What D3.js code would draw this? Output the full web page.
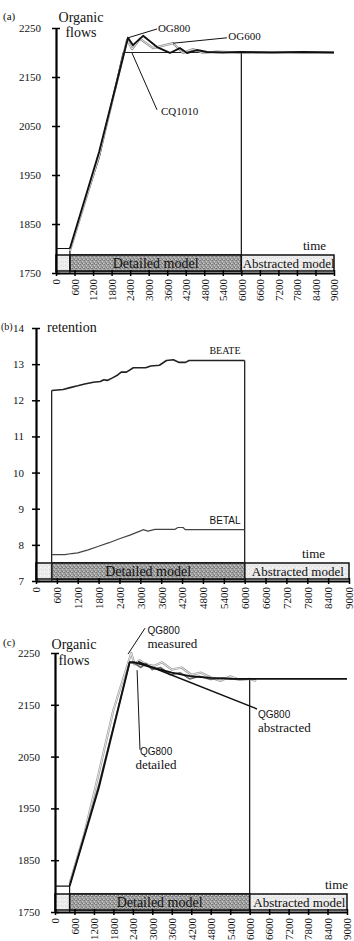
<!DOCTYPE html>
<html>
<head>
<meta charset="utf-8">
<script src="https://cdn.jsdelivr.net/npm/d3@7"></script>
<style>
  body { margin: 0; background: #fff; }
  svg { display: block; }
</style>
</head>
<body>
<script>
// ticks
const timeTicks = [0, 600, 1200, 1800, 2400, 3000, 3600, 4200, 4800, 5400, 6000, 6600, 7200, 7800, 8400, 9000];
const flowTicks = [1750, 1850, 1950, 2050, 2150, 2250];
const retentionTicks = [7, 8, 9, 10, 11, 12, 13, 14];

// model phases
const warmUpT = [0, 450];
const warmUpFlow = 1800;
const switchTime = 6000;
const settledFlow = 2200;

// (a) organic flows
const og800T = [450, 1400, 2330, 2490, 2820, 3270, 3690, 4010, 4240, 4560, 4890, 5400, 6000, 7000, 8000, 9000];
const og800V = [1800, 1998, 2230, 2215, 2234, 2211, 2199, 2209, 2199, 2205, 2201, 2200, 2201, 2200, 2201, 2200];
const og600T = [450, 1400, 2300, 2460, 2720, 3140, 3790, 4110, 4440, 4760, 5200, 6000, 7000, 8000, 9000];
const og600V = [1795, 1990, 2226, 2207, 2228, 2209, 2219, 2199, 2207, 2199, 2202, 2200, 2201, 2200, 2200];
const cq1010T = [450, 1400, 2170, 9000];
const cq1010V = [1800, 1985, 2200, 2200];

// (b) retention
const beateT = [450, 780, 980, 1200, 1400, 1650, 1850, 1950, 2050, 2200, 2350, 2450, 2600, 2800, 3150, 3300, 3550, 3750, 3950, 4100, 4300, 4400, 6000];
const beateV = [12.27, 12.3, 12.35, 12.4, 12.45, 12.5, 12.52, 12.57, 12.55, 12.62, 12.7, 12.78, 12.78, 12.9, 12.9, 12.95, 12.97, 13.1, 13.12, 13.05, 13.05, 13.1, 13.1];
const betalT = [450, 830, 1030, 1200, 1500, 1800, 2100, 2400, 2700, 2990, 3080, 3220, 3420, 4000, 4080, 4230, 4290, 6000];
const betalV = [7.73, 7.73, 7.76, 7.78, 7.86, 7.96, 8.06, 8.17, 8.27, 8.38, 8.42, 8.38, 8.43, 8.43, 8.48, 8.48, 8.42, 8.42];

// (c) QG800
const measuredT = [450, 900, 1300, 1800, 2350, 2450, 2600, 2800, 3050, 3300, 3600, 3900, 4200, 4500, 4800, 5100, 5400, 5700, 6000, 6200];
const measuredV = [1805, 1900, 2005, 2140, 2250, 2228, 2236, 2228, 2225, 2232, 2218, 2222, 2208, 2212, 2203, 2196, 2205, 2198, 2200, 2196];
const detailedT = [450, 1350, 2300, 2450, 2650, 2800, 3000, 3250, 3550, 3850, 4150, 4450, 4800, 5200, 5600, 6000, 6200];
const detailedV = [1800, 1995, 2232, 2230, 2222, 2230, 2218, 2222, 2208, 2212, 2200, 2205, 2199, 2202, 2199, 2200, 2200];
const abstractedT = [450, 1350, 2300, 2450, 3000, 3600, 4200, 4800, 5400, 6000, 9000];
const abstractedV = [1800, 1990, 2232, 2232, 2222, 2212, 2205, 2202, 2200, 2200, 2200];

const SERIF = "'Liberation Serif', 'Times New Roman', serif";
const SANS = "'Liberation Sans', Arial, sans-serif";

const svg = d3.select("body").append("svg").attr("width", 354).attr("height", 941)
  .attr("font-family", SERIF);

// grainy fills for the model band
const defs = svg.append("defs");
function grain(id, base, dots) {
  const p = defs.append("pattern").attr("id", id).attr("width", 4).attr("height", 4)
    .attr("patternUnits", "userSpaceOnUse");
  p.append("rect").attr("width", 4).attr("height", 4).attr("fill", base);
  dots.forEach(d => p.append("rect").attr("x", d[0]).attr("y", d[1]).attr("width", 1).attr("height", 1).attr("fill", d[2]));
}
grain("dark", "#a0a0a0", [[0, 0, "#777"], [2, 1, "#c4c4c4"], [1, 2, "#808080"], [3, 3, "#c8c8c8"], [3, 0, "#8a8a8a"], [0, 3, "#b2b2b2"], [2, 3, "#6f6f6f"]]);
grain("light", "#ececec", [[1, 1, "#d6d6d6"], [3, 2, "#dcdcdc"], [0, 3, "#f8f8f8"]]);

function panel(p) {
  const x = d3.scaleLinear().domain([0, 9000]).range([p.left, p.right]);
  const y = d3.scaleLinear().domain(p.yDomain).range([p.bottom, p.top]);
  const g = svg.append("g");
  const bTop = p.bottom - 18, bBot = p.bottom - 2;

  // band: detailed / abstracted
  g.append("rect").attr("x", p.left).attr("y", bTop).attr("width", p.right - p.left).attr("height", bBot - bTop)
    .attr("fill", "url(#light)").attr("stroke", "#111").attr("stroke-width", 1.5);
  g.append("rect").attr("x", x(warmUpT[1])).attr("y", bTop).attr("width", x(switchTime) - x(warmUpT[1])).attr("height", bBot - bTop)
    .attr("fill", "url(#dark)").attr("stroke", "#111").attr("stroke-width", 1.5);
  g.append("text").attr("x", (x(warmUpT[1]) + x(switchTime)) / 2).attr("y", bBot - 3)
    .attr("text-anchor", "middle").attr("font-size", 14).attr("fill", "#111").text("Detailed model");
  g.append("text").attr("x", (x(switchTime) + p.right) / 2 + 1).attr("y", bBot - 3)
    .attr("text-anchor", "middle").attr("font-size", 13).attr("fill", "#111").text("Abstracted model");
  g.append("text").attr("x", p.timeX).attr("y", bTop - 5).attr("font-size", 13).attr("fill", "#111").text("time");

  // x axis
  const xa = g.append("g").attr("transform", `translate(0,${p.bottom})`)
    .call(d3.axisBottom(x).tickValues(timeTicks).tickSize(3).tickSizeOuter(0).tickFormat(d3.format("d")))
    .attr("font-family", SERIF).attr("font-size", 11);
  xa.select(".domain").attr("stroke-width", 2.2);
  xa.selectAll(".tick line").attr("y1", -3).attr("stroke-width", 1.5);
  xa.selectAll(".tick text").attr("transform", "rotate(-90)").attr("text-anchor", "end")
    .attr("x", -6).attr("y", 0).attr("dy", "0.35em").attr("fill", "#111");

  // y axis
  const ya = g.append("g").attr("transform", `translate(${p.left},0)`)
    .call(d3.axisLeft(y).tickValues(p.yTicks).tickSize(4).tickSizeOuter(0).tickPadding(p.pad).tickFormat(d3.format("d")))
    .attr("font-family", SERIF).attr("font-size", 11);
  ya.select(".domain").attr("stroke-width", 2.2);
  ya.selectAll(".tick line").attr("x1", 4).attr("stroke-width", 1.5);
  ya.selectAll(".tick text").attr("fill", "#111");

  return { x, y, g };
}

function series(ctx, T, V, stroke, width) {
  const line = d3.line().x((d, i) => ctx.x(T[i])).y(d => ctx.y(d));
  return ctx.g.append("path").attr("d", line(V)).attr("fill", "none")
    .attr("stroke", stroke).attr("stroke-width", width).attr("stroke-linejoin", "round");
}
function hollow(ctx, T, V, stroke, width) {
  series(ctx, T, V, stroke, width);
  series(ctx, T, V, "#fff", width * 0.35);
}
function leader(ctx, a, b, w) {
  ctx.g.append("line").attr("x1", ctx.x(a[0])).attr("y1", ctx.y(a[1])).attr("x2", ctx.x(b[0])).attr("y2", ctx.y(b[1]))
    .attr("stroke", "#111").attr("stroke-width", w || 1);
}
function label(ctx, t, v, str, opts) {
  opts = opts || {};
  ctx.g.append("text").attr("x", ctx.x(t)).attr("y", ctx.y(v)).attr("dy", opts.dy || 0)
    .attr("font-size", opts.size || 11).attr("text-anchor", opts.anchor || "start")
    .attr("font-family", opts.sans ? SANS : SERIF).attr("fill", "#111").text(str);
}
function warmUp(ctx, p) {
  ctx.g.append("path").attr("fill", "none").attr("stroke", "#111").attr("stroke-width", 1.2)
    .attr("d", `M${ctx.x(warmUpT[0])},${ctx.y(warmUpFlow)}H${ctx.x(warmUpT[1])}V${p.bottom}`);
}
function title(xp, yp, str, size, anchor) {
  svg.append("text").attr("x", xp).attr("y", yp).attr("font-size", size)
    .attr("text-anchor", anchor || "start").attr("fill", "#111").text(str);
}

// ---------- (a) ----------
const pa = { left: 56, right: 334, top: 28, bottom: 273, yDomain: [1750, 2250], yTicks: flowTicks, timeX: 303, pad: 11 };
const a = panel(pa);
warmUp(a, pa);
a.g.append("line").attr("x1", a.x(switchTime)).attr("x2", a.x(switchTime)).attr("y1", a.y(settledFlow)).attr("y2", pa.bottom)
  .attr("stroke", "#111").attr("stroke-width", 1.2);
series(a, cq1010T, cq1010V, "#222", 1);
hollow(a, og600T, og600V, "#8a8a8a", 2.2);
series(a, og800T, og800V, "#111", 1.9);
leader(a, [2330, 2230], [3270, 2248]);
leader(a, [3790, 2219], [5535, 2230]);
leader(a, [2460, 2199], [3270, 2083]);
label(a, 3300, 2242, "OG800");
label(a, 5580, 2226, "OG600");
label(a, 3400, 2073, "CQ1010");
title(3, 20, "(a)", 11);
title(81, 22, "Organic", 14, "middle");
title(81, 37, "flows", 14, "middle");

// ---------- (b) ----------
const pb = { left: 36, right: 349, top: 328, bottom: 581, yDomain: [7, 14], yTicks: retentionTicks, timeX: 302, pad: 8 };
const b = panel(pb);
b.g.append("line").attr("x1", b.x(beateT[0])).attr("x2", b.x(beateT[0])).attr("y1", b.y(beateV[0])).attr("y2", pb.bottom)
  .attr("stroke", "#222").attr("stroke-width", 1.3);
b.g.append("line").attr("x1", b.x(switchTime)).attr("x2", b.x(switchTime)).attr("y1", b.y(beateV[beateV.length - 1])).attr("y2", pb.bottom)
  .attr("stroke", "#222").attr("stroke-width", 1.3);
series(b, betalT, betalV, "#444", 1.2);
series(b, beateT, beateV, "#222", 1.6);
label(b, 5880, 13.28, "BEATE", { anchor: "end", size: 10 });
label(b, 5880, 8.57, "BETAL", { anchor: "end", size: 10, sans: true });
title(1, 330, "(b)", 10);
title(47, 332, "retention", 14);

// ---------- (c) ----------
const pc = { left: 55, right: 347, top: 653, bottom: 912, yDomain: [1750, 2250], yTicks: flowTicks, timeX: 325, pad: 11 };
const c = panel(pc);
warmUp(c, pc);
c.g.append("line").attr("x1", c.x(switchTime)).attr("x2", c.x(switchTime)).attr("y1", c.y(settledFlow)).attr("y2", pc.bottom)
  .attr("stroke", "#111").attr("stroke-width", 1.2);
hollow(c, measuredT, measuredV, "#9a9a9a", 2.2);
series(c, detailedT, detailedV, "#666", 1.6);
series(c, abstractedT, abstractedV, "#111", 1.9);
leader(c, [2250, 2248], [2775, 2298]);
leader(c, [2560, 2233], [6225, 2142], 1.5);
leader(c, [2530, 2217], [2620, 2063]);
label(c, 2850, 2286, "QG800", { size: 10, sans: true });
label(c, 2850, 2286, "measured", { size: 13, dy: 14 });
label(c, 6256, 2124, "QG800", { size: 10, sans: true });
label(c, 6256, 2124, "abstracted", { size: 13, dy: 14 });
label(c, 2620, 2054, "QG800", { size: 10, sans: true });
label(c, 2480, 2054, "detailed", { size: 13, dy: 14 });
title(3, 646, "(c)", 11);
title(74, 649, "Organic", 14, "middle");
title(74, 665, "flows", 14, "middle");
</script>
</body>
</html>
